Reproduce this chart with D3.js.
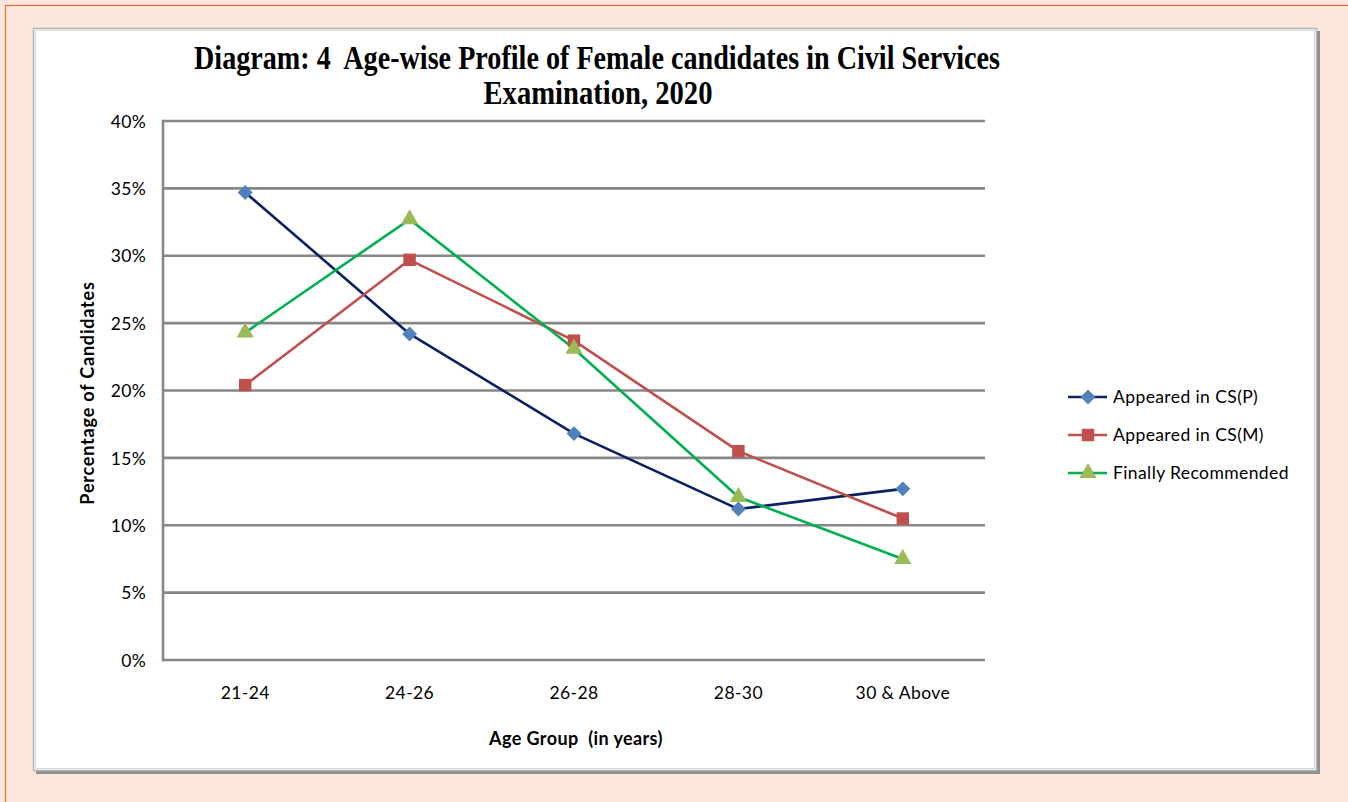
<!DOCTYPE html>
<html>
<head>
<meta charset="utf-8">
<script src="https://cdn.jsdelivr.net/npm/d3@7/dist/d3.min.js"></script>
<style>
  html, body { margin: 0; padding: 0; background: #fde7dc; }
  svg { display: block; }
</style>
</head>
<body>
<svg id="chart" width="1348" height="802"></svg>
<script>
// Age groups and the share (%) of female candidates at each stage
const categories = ["21-24", "24-26", "26-28", "28-30", "30 & Above"];
const appearedPrelims = [34.7, 24.2, 16.8, 11.2, 12.7];
const appearedMains = [20.4, 29.7, 23.7, 15.5, 10.5];
const finallyRecommended = [24.3, 32.7, 23.1, 12.1, 7.5];
const yTicks = [0, 5, 10, 15, 20, 25, 30, 35, 40];
const seriesNames = ["Appeared in CS(P)", "Appeared in CS(M)", "Finally Recommended"];

// a square turned 45 degrees, as a d3 symbol type
const wideDiamond = {
  draw(ctx, size) {
    const r = Math.sqrt(size) / Math.SQRT2;
    ctx.moveTo(0, -r); ctx.lineTo(r, 0); ctx.lineTo(0, r); ctx.lineTo(-r, 0); ctx.closePath();
  }
};

const series = [
  { name: seriesNames[0], values: appearedPrelims, line: "#0b1f63", fill: "#4f81bd", shape: wideDiamond, size: 112 },
  { name: seriesNames[1], values: appearedMains, line: "#c0504d", fill: "#c0504d", shape: d3.symbolSquare, size: 155 },
  { name: seriesNames[2], values: finallyRecommended, line: "#00b050", fill: "#9bbb59", shape: d3.symbolTriangle, size: 130 }
];

const svg = d3.select("#chart");
const sansFont = "Lato, 'Open Sans', sans-serif";

// page frame
svg.append("rect").attr("x", 5.5).attr("y", 5.5).attr("width", 1360).attr("height", 820)
  .attr("fill", "#fde7dc").attr("stroke", "#f26b3a").attr("stroke-width", 1.2);

// chart area box with a soft shadow on the right and bottom
svg.append("rect").attr("x", 36).attr("y", 31).attr("width", 1284).attr("height", 743)
  .attr("fill", "#8f8f8f");
svg.append("rect").attr("x", 33.5).attr("y", 28.5).attr("width", 1283).attr("height", 742)
  .attr("fill", "#ffffff").attr("stroke", "#b4b4b4").attr("stroke-width", 1.5);
svg.append("rect").attr("x", 35.5).attr("y", 30.5).attr("width", 1279).attr("height", 738)
  .attr("fill", "none").attr("stroke", "#d8d8d8").attr("stroke-width", 1);

// plot region
const plot = { left: 163, right: 985, top: 121, bottom: 660 };

const x = d3.scaleBand().domain(categories).range([plot.left, plot.right]).paddingInner(0).paddingOuter(0);
const y = d3.scaleLinear().domain([0, 40]).range([plot.bottom, plot.top]);
const cx = c => x(c) + x.bandwidth() / 2;

// horizontal gridlines
svg.append("g")
  .selectAll("line").data(yTicks).join("line")
  .attr("x1", plot.left).attr("x2", plot.right)
  .attr("y1", d => y(d)).attr("y2", d => y(d))
  .attr("stroke", "#878787").attr("stroke-width", 2.6);

// vertical axis line
svg.append("line")
  .attr("x1", plot.left).attr("x2", plot.left)
  .attr("y1", plot.top - 1.3).attr("y2", plot.bottom + 1.3)
  .attr("stroke", "#878787").attr("stroke-width", 2.6);

// y tick labels
const yAxis = d3.axisLeft(y).tickValues(yTicks).tickFormat(d => d + "%").tickSize(0).tickPadding(17);
const yg = svg.append("g").attr("transform", `translate(${plot.left},0)`).call(yAxis);
yg.select(".domain").remove();
yg.selectAll("text").attr("font-family", sansFont).attr("font-size", 17.5)
  .attr("letter-spacing", 0.3).attr("fill", "#000").attr("dy", "0.35em");

// x tick labels
const xAxis = d3.axisBottom(x).tickSize(0).tickPadding(27);
const xg = svg.append("g").attr("transform", `translate(0,${plot.bottom})`).call(xAxis);
xg.select(".domain").remove();
xg.selectAll("text").attr("font-family", sansFont).attr("font-size", 17.5)
  .attr("letter-spacing", 0.4).attr("fill", "#000");

// axis titles
svg.append("text").attr("x", 576).attr("y", 745).attr("text-anchor", "middle")
  .attr("font-family", sansFont).attr("font-weight", "bold").attr("font-size", 18)
  .attr("letter-spacing", 0.4)
  .text("Age Group\u00a0 (in years)");
svg.append("text").attr("transform", "translate(94,393) rotate(-90)").attr("text-anchor", "middle")
  .attr("font-family", sansFont).attr("font-weight", "bold").attr("font-size", 18)
  .attr("letter-spacing", 0.8)
  .text("Percentage of Candidates");

// title
const titleFont = "'Liberation Serif', 'Times New Roman', serif";
svg.append("text").attr("x", 597).attr("y", 69).attr("text-anchor", "middle")
  .attr("font-family", titleFont).attr("font-weight", "bold").attr("font-size", 34)
  .attr("textLength", 806).attr("lengthAdjust", "spacingAndGlyphs")
  .text("Diagram: 4\u00a0 Age-wise Profile of Female candidates in Civil Services");
svg.append("text").attr("x", 598).attr("y", 104).attr("text-anchor", "middle")
  .attr("font-family", titleFont).attr("font-weight", "bold").attr("font-size", 34)
  .attr("textLength", 229).attr("lengthAdjust", "spacingAndGlyphs")
  .text("Examination, 2020");

// series lines and markers
const line = d3.line().x((d, i) => cx(categories[i])).y(d => y(d));
series.forEach(s => {
  svg.append("path").datum(s.values)
    .attr("d", line).attr("fill", "none")
    .attr("stroke", s.line).attr("stroke-width", 2.6).attr("stroke-linejoin", "round");
});
series.forEach(s => {
  svg.append("g").selectAll("path").data(s.values).join("path")
    .attr("transform", (d, i) => `translate(${cx(categories[i])},${y(d)})`)
    .attr("d", d3.symbol().type(s.shape).size(s.size))
    .attr("fill", s.fill);
});

// legend
const legend = svg.append("g").attr("transform", "translate(1068,397)");
series.forEach((s, i) => {
  const g = legend.append("g").attr("transform", `translate(0,${i * 38})`);
  g.append("line").attr("x1", 0).attr("x2", 39).attr("y1", 0).attr("y2", 0)
    .attr("stroke", s.line).attr("stroke-width", 2.6);
  g.append("path").attr("transform", "translate(20,0)")
    .attr("d", d3.symbol().type(s.shape).size(s.size)).attr("fill", s.fill);
  g.append("text").attr("x", 45).attr("y", 0).attr("dy", "0.35em")
    .attr("font-family", sansFont).attr("font-size", 17.5).attr("letter-spacing", 0.4)
    .text(s.name);
});
</script>
</body>
</html>
